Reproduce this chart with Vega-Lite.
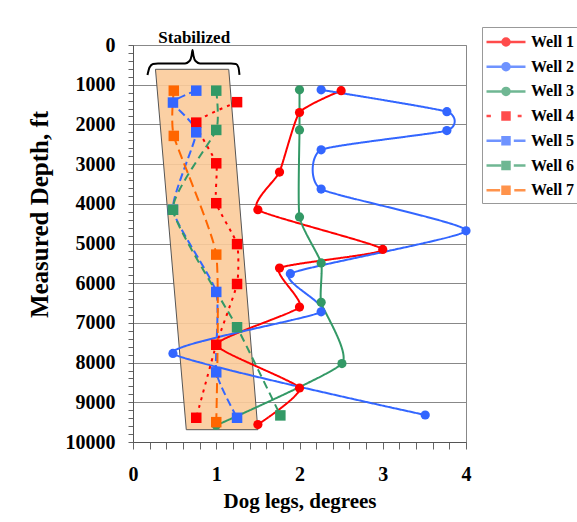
{
  "$schema": "https://vega.github.io/schema/vega-lite/v6.json",
  "width": 333,
  "height": 397,
  "autosize": {"type": "none"},
  "padding": {"left": 133, "top": 45, "right": 111, "bottom": 80},
  "background": "white",
  "config": {
    "view": {"stroke": "#888", "strokeWidth": 1},
    "font": "Liberation Serif"
  },
  "datasets": {
    "wells": [
      {"well": "Well 1", "dl": 2.5, "depth": 1150},
      {"well": "Well 1", "dl": 2.0, "depth": 1700},
      {"well": "Well 1", "dl": 1.76, "depth": 3200},
      {"well": "Well 1", "dl": 1.5, "depth": 4150},
      {"well": "Well 1", "dl": 3.0, "depth": 5150},
      {"well": "Well 1", "dl": 1.76, "depth": 5620},
      {"well": "Well 1", "dl": 2.0, "depth": 6600},
      {"well": "Well 1", "dl": 1.0, "depth": 7550},
      {"well": "Well 1", "dl": 2.0, "depth": 8640},
      {"well": "Well 1", "dl": 1.5, "depth": 9560},
      {"well": "Well 2", "dl": 2.26, "depth": 1130},
      {"well": "Well 2", "dl": 3.77, "depth": 1680},
      {"well": "Well 2", "dl": 3.77, "depth": 2155},
      {"well": "Well 2", "dl": 2.26, "depth": 2640},
      {"well": "Well 2", "dl": 2.26, "depth": 3630},
      {"well": "Well 2", "dl": 4.0, "depth": 4680},
      {"well": "Well 2", "dl": 1.89, "depth": 5760},
      {"well": "Well 2", "dl": 2.26, "depth": 6720},
      {"well": "Well 2", "dl": 0.48, "depth": 7770},
      {"well": "Well 2", "dl": 3.51, "depth": 9320},
      {"well": "Well 3", "dl": 2.0, "depth": 1130},
      {"well": "Well 3", "dl": 2.0, "depth": 2140},
      {"well": "Well 3", "dl": 2.0, "depth": 4330},
      {"well": "Well 3", "dl": 2.26, "depth": 5490},
      {"well": "Well 3", "dl": 2.26, "depth": 6480},
      {"well": "Well 3", "dl": 2.51, "depth": 8025},
      {"well": "Well 3", "dl": 1.0, "depth": 9580},
      {"well": "Well 4", "dl": 1.25, "depth": 1440},
      {"well": "Well 4", "dl": 0.76, "depth": 1955},
      {"well": "Well 4", "dl": 1.0, "depth": 2980},
      {"well": "Well 4", "dl": 1.0, "depth": 3985},
      {"well": "Well 4", "dl": 1.25, "depth": 5015},
      {"well": "Well 4", "dl": 1.25, "depth": 6020},
      {"well": "Well 4", "dl": 1.0, "depth": 7550},
      {"well": "Well 4", "dl": 0.76, "depth": 9390},
      {"well": "Well 5", "dl": 0.76, "depth": 1150},
      {"well": "Well 5", "dl": 0.48, "depth": 1450},
      {"well": "Well 5", "dl": 0.76, "depth": 2200},
      {"well": "Well 5", "dl": 0.48, "depth": 4150},
      {"well": "Well 5", "dl": 1.0, "depth": 6220},
      {"well": "Well 5", "dl": 1.0, "depth": 8245},
      {"well": "Well 5", "dl": 1.25, "depth": 9390},
      {"well": "Well 6", "dl": 1.0, "depth": 1150},
      {"well": "Well 6", "dl": 1.0, "depth": 2140},
      {"well": "Well 6", "dl": 0.48, "depth": 4150},
      {"well": "Well 6", "dl": 1.25, "depth": 7110},
      {"well": "Well 6", "dl": 1.77, "depth": 9330},
      {"well": "Well 7", "dl": 0.49, "depth": 1150},
      {"well": "Well 7", "dl": 0.49, "depth": 2290},
      {"well": "Well 7", "dl": 1.0, "depth": 5280},
      {"well": "Well 7", "dl": 1.0, "depth": 9500}
    ]
  },
  "layer": [
    {
      "data": {"values": [
        {"depth": 612, "dl": 0.27, "dl2": 1.15},
        {"depth": 9690, "dl": 0.64, "dl2": 1.5}
      ]},
      "mark": {"type": "area", "orient": "horizontal", "fill": "#FBCB9A", "fillOpacity": 0.9, "stroke": "#555", "strokeWidth": 1},
      "encoding": {
        "y": {"field": "depth", "type": "quantitative",
          "scale": {"domain": [0, 10000], "reverse": true, "nice": false, "zero": false},
          "axis": {
            "title": "Measured Depth, ft", "tickCount": 50, "format": "d",
            "labelExpr": "datum.value % 1000 == 0 ? format(datum.value, 'd') : ''",
            "grid": true, "gridColor": "#888",
            "gridOpacity": {"condition": {"test": "datum.value % 1000 == 0", "value": 1}, "value": 0},
            "tickSize": 5, "tickColor": "#666", "domainColor": "#555",
            "labelPadding": 13, "labelFontSize": 20, "labelFont": "Liberation Serif", "labelFontWeight": "bold", "labelColor": "black",
            "labelOverlap": false, "labelFlush": false, "labelBound": false,
            "titleFont": "Liberation Serif", "titleFontSize": 25, "titleFontWeight": "bold", "titleColor": "black",
            "titleX": -86, "titleY": 169, "titleBaseline": "alphabetic"
          }
        },
        "x": {"field": "dl", "type": "quantitative",
          "scale": {"domain": [0, 4], "nice": false},
          "axis": {
            "title": "Dog legs, degrees", "tickCount": 20,
            "labelExpr": "abs(datum.value - round(datum.value)) < 0.001 ? format(datum.value, 'd') : ''",
            "grid": false, "tickSize": 7, "tickColor": "#666", "domainColor": "#555",
            "labelPadding": 31, "labelBaseline": "alphabetic", "labelFontSize": 20, "labelFont": "Liberation Serif", "labelFontWeight": "bold", "labelColor": "black",
            "labelOverlap": false, "labelFlush": false, "labelBound": false,
            "titleFont": "Liberation Serif", "titleFontSize": 21, "titleFontWeight": "bold", "titleColor": "black",
            "titleY": 65, "titleBaseline": "alphabetic"
          }
        },
        "x2": {"field": "dl2"}
      }
    },
    {
      "data": {"name": "wells"},
      "mark": {"type": "line", "interpolate": "cardinal", "tension": 0.5, "strokeWidth": 2},
      "encoding": {
        "x": {"field": "dl", "type": "quantitative"},
        "y": {"field": "depth", "type": "quantitative"},
        "order": {"field": "depth", "type": "quantitative"},
        "stroke": {"field": "well", "type": "nominal",
          "scale": {"range": ["#FF0000", "#3366FF", "#339966", "#FF0000", "#3366FF", "#339966", "#FF6600"]},
          "legend": null},
        "strokeDash": {"field": "well", "type": "nominal",
          "scale": {"range": [[1, 0], [1, 0], [1, 0], [3, 5], [8, 4], [8, 5], [10, 5]]},
          "legend": null}
      }
    },
    {
      "data": {"name": "wells"},
      "transform": [{"filter": "indexof(['Well 1','Well 2','Well 3'], datum.well) >= 0"}],
      "mark": {"type": "point", "shape": "circle", "filled": true, "size": 85, "opacity": 1},
      "encoding": {
        "x": {"field": "dl", "type": "quantitative"},
        "y": {"field": "depth", "type": "quantitative"},
        "fill": {"field": "well", "type": "nominal",
          "scale": {"range": ["#FF0000", "#3366FF", "#339966", "#FF0000", "#3366FF", "#339966", "#FF6600"]},
          "legend": null}
      }
    },
    {
      "data": {"name": "wells"},
      "transform": [{"filter": "indexof(['Well 4','Well 5','Well 6','Well 7'], datum.well) >= 0"}],
      "mark": {"type": "square", "filled": true, "size": 110, "opacity": 1},
      "encoding": {
        "x": {"field": "dl", "type": "quantitative"},
        "y": {"field": "depth", "type": "quantitative"},
        "fill": {"field": "well", "type": "nominal", "legend": null}
      }
    },
    {
      "data": {"values": [
        {"o": 1, "dl": 0.174, "depth": 755},
        {"o": 2, "dl": 0.198, "depth": 566},
        {"o": 3, "dl": 0.24, "depth": 478},
        {"o": 4, "dl": 0.3, "depth": 465},
        {"o": 5, "dl": 0.625, "depth": 465},
        {"o": 6, "dl": 0.679, "depth": 403},
        {"o": 7, "dl": 0.703, "depth": 277},
        {"o": 8, "dl": 0.715, "depth": 126},
        {"o": 9, "dl": 0.727, "depth": 277},
        {"o": 10, "dl": 0.751, "depth": 403},
        {"o": 11, "dl": 0.805, "depth": 465},
        {"o": 12, "dl": 1.177, "depth": 465},
        {"o": 13, "dl": 1.237, "depth": 478},
        {"o": 14, "dl": 1.267, "depth": 566},
        {"o": 15, "dl": 1.279, "depth": 755}
      ]},
      "mark": {"type": "line", "interpolate": "monotone", "color": "black", "strokeWidth": 2},
      "encoding": {
        "x": {"field": "dl", "type": "quantitative"},
        "y": {"field": "depth", "type": "quantitative"},
        "order": {"field": "o", "type": "quantitative"}
      }
    },
    {
      "data": {"values": [{"label": "Stabilized", "dl": 0.735, "depth": 0}]},
      "mark": {"type": "text", "font": "Liberation Serif", "fontSize": 17, "fontWeight": "bold", "fill": "black", "baseline": "alphabetic", "align": "center", "dy": -2},
      "encoding": {
        "x": {"field": "dl", "type": "quantitative"},
        "y": {"field": "depth", "type": "quantitative"},
        "text": {"field": "label"}
      }
    },
    {
      "data": {"name": "wells"},
      "transform": [{"filter": "false"}],
      "mark": {"type": "point", "filled": false},
      "encoding": {
        "color": {"field": "well", "type": "nominal",
          "scale": {"domain": ["Well 1", "Well 2", "Well 3", "Well 4", "Well 5", "Well 6", "Well 7"],
                    "range": ["#FF0000", "#3366FF", "#339966", "#FF0000", "#3366FF", "#339966", "#FF6600"]},
          "legend": {"title": null, "orient": "none", "legendX": 349, "legendY": -18,
            "labelFont": "Liberation Serif", "labelFontSize": 16, "labelFontWeight": "bold", "labelColor": "black",
            "symbolSize": 380, "symbolOffset": 9, "symbolStrokeWidth": 2.5,
            "strokeColor": "#999", "fillColor": "white", "padding": 4, "rowPadding": 4.7, "labelOffset": 14}},
        "shape": {"field": "well", "type": "nominal",
          "scale": {"domain": ["Well 1", "Well 2", "Well 3", "Well 4", "Well 5", "Well 6", "Well 7"],
            "range": [
              "M-2,0H2M0.128,0A0.128,0.128,0,1,1,-0.128,0A0.128,0.128,0,1,1,0.128,0ZM0.359,0A0.359,0.359,0,1,1,-0.359,0A0.359,0.359,0,1,1,0.359,0Z",
              "M-2,0H2M0.128,0A0.128,0.128,0,1,1,-0.128,0A0.128,0.128,0,1,1,0.128,0ZM0.359,0A0.359,0.359,0,1,1,-0.359,0A0.359,0.359,0,1,1,0.359,0Z",
              "M-2,0H2M0.128,0A0.128,0.128,0,1,1,-0.128,0A0.128,0.128,0,1,1,0.128,0ZM0.359,0A0.359,0.359,0,1,1,-0.359,0A0.359,0.359,0,1,1,0.359,0Z",
              "M-2,0H-1.55M1.2,0H1.6M-0.128,-0.128H0.128V0.128H-0.128ZM-0.359,-0.359H0.359V0.359H-0.359Z",
              "M-2,0H-0.5M0.8,0H2M-0.128,-0.128H0.128V0.128H-0.128ZM-0.359,-0.359H0.359V0.359H-0.359Z",
              "M-2,0H-0.5M0.8,0H2M-0.128,-0.128H0.128V0.128H-0.128ZM-0.359,-0.359H0.359V0.359H-0.359Z",
              "M-2,0H-0.6M0.85,0H2M-0.128,-0.128H0.128V0.128H-0.128ZM-0.359,-0.359H0.359V0.359H-0.359Z"
            ]},
          "legend": {"title": null, "orient": "none", "legendX": 349, "legendY": -18,
            "labelFont": "Liberation Serif", "labelFontSize": 16, "labelFontWeight": "bold", "labelColor": "black",
            "symbolSize": 380, "symbolOffset": 9, "symbolStrokeWidth": 2.5,
            "strokeColor": "#999", "fillColor": "white", "padding": 4, "rowPadding": 4.7, "labelOffset": 14}
        }
      }
    }
  ]
}
